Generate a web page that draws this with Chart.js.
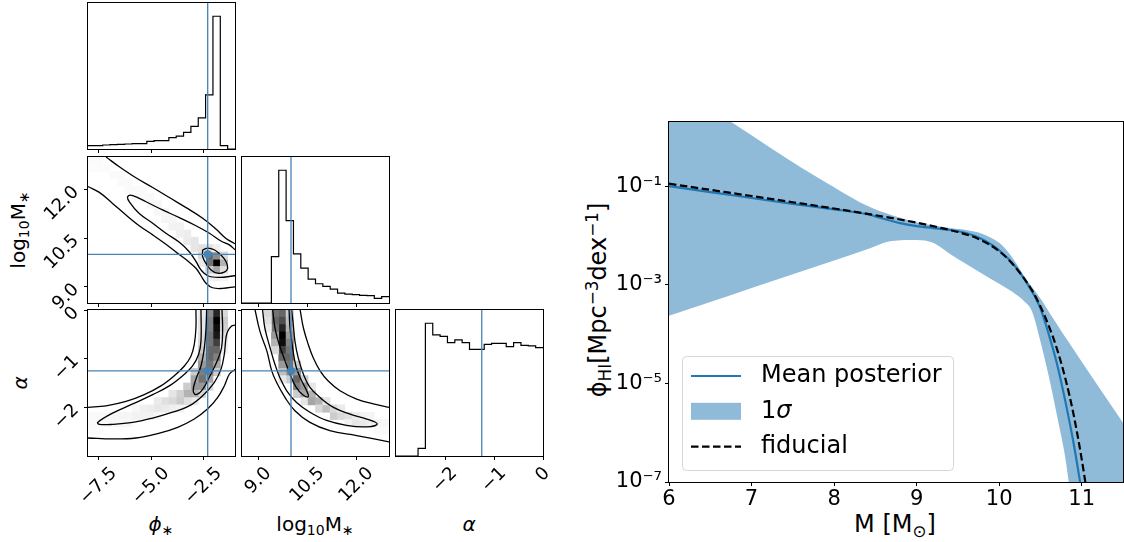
<!DOCTYPE html>
<html><head><meta charset="utf-8">
<script src="https://cdn.jsdelivr.net/npm/chart.js@4.4.1/dist/chart.umd.min.js"></script>
<style>
html,body{margin:0;padding:0;background:#fff;}
body{width:1124px;height:542px;position:relative;overflow:hidden;font-family:"DejaVu Sans";}
canvas{position:absolute;}
.lab{position:absolute;white-space:nowrap;color:#000;font-family:"DejaVu Sans";line-height:1;transform:translate(-50%,-50%);}
.rot{transform:translate(-50%,-50%) rotate(-90deg);}
.sb{font-size:70%;position:relative;top:0.3em;}
.sp{font-size:70%;position:relative;top:-0.5em;}
.it{font-style:italic;}
</style></head><body>
<div class="lab rot" style="left:18px;top:230px;font-size:20px">log<span class="sb">10</span>M<span class="sb">∗</span></div>
<div class="lab rot" style="left:20px;top:383px;font-size:20px"><span class="it">α</span></div>
<div class="lab" style="left:161px;top:524px;font-size:20px"><span class="it">ϕ</span><span class="sb">∗</span></div>
<div class="lab" style="left:315px;top:524px;font-size:20px">log<span class="sb">10</span>M<span class="sb">∗</span></div>
<div class="lab" style="left:469px;top:524px;font-size:20px"><span class="it">α</span></div>
<div class="lab rot" style="left:598px;top:300px;font-size:24px">ϕ<span class="sb">HI</span>[Mpc<span class="sp">−3</span>dex<span class="sp">−1</span>]</div>
<div class="lab" style="left:895px;top:524px;font-size:24px">M [M<span class="sb">⊙</span>]</div>
<script>
// ================= DATA =================
// ---- corner plot ----
const phiRange = [-8, -1];
const logMRange = [8.5, 13];
const alphaRange = [-3, 0];
const phiTicks = [-7.5, -5.0, -2.5];
const phiTickLabels = ['−7.5', '−5.0', '−2.5'];
const logMTicks = [9.0, 10.5, 12.0];
const logMTickLabels = ['9.0', '10.5', '12.0'];
const alphaTicks = [-2, -1, 0];
const alphaTickLabels = ['−2', '−1', '0'];
const truthPhi = -2.3, truthLogM = 10.0, truthAlpha = -1.25;
const nBins = 20;
const histPhi = [10,10,12,13,14,15,16,16,23,25,25,34,39,50,68,94,163,400,10,0];
const histLogM = [0,0,0,0,140,400,248,148,105,72,58,50,42,30,27,25,23,22,14,19];
const histAlpha = [0,0,0,23,398,363,359,340,348,340,320,320,335,338,338,328,340,332,330,325];

// 2D density cells: [binX, binY, relative density]
const densPhiLogM = [[17,5,1.0],[16,5,0.55],[16,6,0.6],[17,6,0.45],[18,5,0.3],[17,4,0.35],[16,4,0.2],[18,6,0.15],[18,4,0.12],[15,6,0.15],[15,7,0.12],[16,7,0.12],[17,7,0.06],[15,5,0.08],[17,3,0.06],[18,3,0.04],[16,3,0.05],
 [14,7,0.1],[14,8,0.1],[13,8,0.08],[13,9,0.07],[12,9,0.06],[12,10,0.05],[11,10,0.05],[11,11,0.04],[10,11,0.04],[10,12,0.035],[9,12,0.03],[9,13,0.03],[8,13,0.03],[8,14,0.025],[7,14,0.025],[7,15,0.02],[6,15,0.02],[5,16,0.02],[4,16,0.02],[4,17,0.02],[3,17,0.02],[2,18,0.015],[1,18,0.015],[1,19,0.015],[0,19,0.015],[0,18,0.01],[5,15,0.02],[6,14,0.02]];
const densPhiAlpha = [[17,19,0.85],[17,18,1.0],[17,17,0.95],[17,16,0.9],[17,15,0.75],[17,14,0.6],[17,13,0.5],[17,12,0.35],[17,11,0.2],
 [16,19,0.45],[16,18,0.5],[16,17,0.5],[16,16,0.55],[16,15,0.55],[16,14,0.6],[16,13,0.6],[16,12,0.55],[16,11,0.5],[16,10,0.35],[16,9,0.15],
 [15,19,0.08],[15,18,0.1],[15,17,0.1],[15,16,0.12],[15,15,0.15],[15,14,0.2],[15,13,0.3],[15,12,0.4],[15,11,0.5],[15,10,0.55],[15,9,0.4],[15,8,0.15],
 [18,19,0.15],[18,18,0.2],[18,17,0.18],[18,16,0.12],[18,15,0.08],[18,14,0.05],
 [14,11,0.2],[14,10,0.35],[14,9,0.4],[14,8,0.3],[14,7,0.08],[13,9,0.2],[13,8,0.3],[13,7,0.12],[12,8,0.18],[12,7,0.2],[12,6,0.05],
 [11,8,0.1],[11,7,0.15],[11,6,0.06],[10,7,0.12],[10,6,0.08],[9,7,0.08],[9,6,0.09],[9,5,0.03],[8,6,0.07],[8,5,0.05],[7,6,0.06],[7,5,0.05],
 [6,5,0.05],[6,6,0.03],[5,5,0.04],[5,4,0.03],[4,5,0.04],[4,4,0.03],[3,5,0.03],[3,4,0.03],[2,5,0.025],[2,4,0.03],[1,4,0.025],[1,5,0.02],[0,4,0.02],[0,5,0.02],[0,3,0.015],[1,3,0.015]];
const densLogMAlpha = [[5,19,0.6],[5,18,0.7],[5,17,0.85],[5,16,1.0],[5,15,0.95],[5,14,0.75],[5,13,0.6],
 [4,19,0.55],[4,18,0.6],[4,17,0.55],[4,16,0.4],[4,15,0.3],[4,14,0.15],[3,19,0.15],[3,18,0.12],[3,17,0.08],
 [6,19,0.2],[6,18,0.25],[6,17,0.3],[6,16,0.4],[6,15,0.5],[6,14,0.55],[6,13,0.6],[6,12,0.55],[6,11,0.45],[6,10,0.2],
 [7,12,0.2],[7,11,0.4],[7,10,0.6],[7,9,0.5],[7,8,0.2],[5,12,0.4],[5,11,0.25],[5,10,0.1],
 [8,10,0.2],[8,9,0.4],[8,8,0.35],[8,7,0.1],[9,8,0.3],[9,7,0.35],[9,9,0.1],[10,7,0.3],[10,6,0.15],[11,6,0.25],[11,7,0.1],
 [12,5,0.2],[12,6,0.15],[13,5,0.15],[13,6,0.08],[14,5,0.12],[14,4,0.05],[15,4,0.1],[15,5,0.08],[16,4,0.08],[16,5,0.05],
 [17,4,0.06],[17,5,0.04],[18,4,0.04],[19,4,0.03],[18,3,0.02],[19,3,0.02]];

// contour lines (data units)
const contA_outerUpper = [[-7.14,13.0],[-6.51,12.70],[-5.72,12.36],[-4.92,12.06],[-4.13,11.75],[-3.33,11.44],[-2.54,11.11],[-1.91,10.78],[-1.43,10.49],[-1.0,10.33]];
const contA_outerLower = [[-8.0,12.09],[-7.46,11.91],[-6.83,11.57],[-6.19,11.21],[-5.56,10.88],[-4.92,10.60],[-4.29,10.31],[-3.73,10.03],[-3.26,9.80],[-2.86,9.57],[-2.62,9.34],[-2.38,9.11],[-2.07,8.97],[-1.59,8.95],[-1.0,9.0]];
const contA_middle = [[-1.0,10.14],[-1.27,10.29],[-1.67,10.41],[-2.22,10.65],[-2.86,10.88],[-3.65,11.13],[-4.45,11.37],[-5.24,11.62],[-5.87,11.81],[-6.11,11.78],[-6.03,11.62],[-5.56,11.26],[-4.92,10.96],[-4.29,10.65],[-3.65,10.37],[-3.18,10.08],[-2.86,9.78],[-2.62,9.52],[-2.30,9.34],[-1.75,9.29],[-1.0,9.34]];
const contA_inner = [[-2.54,10.14],[-2.30,10.19],[-1.99,10.14],[-1.67,9.98],[-1.43,9.78],[-1.35,9.57],[-1.51,9.45],[-1.83,9.42],[-2.14,9.52],[-2.38,9.72],[-2.54,9.93],[-2.54,10.14]];
const contB_outerLeft = [[-2.86,0],[-2.86,-0.37],[-2.94,-0.71],[-3.10,-0.95],[-3.41,-1.15],[-3.89,-1.35],[-4.53,-1.56],[-5.32,-1.74],[-6.19,-1.88],[-7.14,-1.97],[-8.0,-2.0]];
const contB_outerRight = [[-1.0,-1.22],[-1.27,-1.32],[-1.51,-1.56],[-1.83,-1.80],[-2.30,-2.03],[-2.94,-2.24],[-3.73,-2.41],[-4.68,-2.54],[-5.72,-2.63],[-6.83,-2.65],[-8.0,-2.63]];
const contB_middle = [[-2.62,0],[-2.62,-0.64],[-2.73,-0.91],[-3.02,-1.15],[-3.49,-1.35],[-4.13,-1.56],[-4.92,-1.74],[-5.87,-1.93],[-6.83,-2.12],[-7.54,-2.31],[-7.46,-2.35],[-6.83,-2.35],[-5.87,-2.31],[-4.92,-2.22],[-3.97,-2.10],[-3.18,-1.97],[-2.54,-1.76],[-1.99,-1.49],[-1.67,-1.22],[-1.51,-0.91],[-1.43,-0.57],[-1.35,-0.44],[-1.16,-0.33],[-1.0,-0.31]];
const contB_inner = [[-2.35,0],[-2.38,-0.37],[-2.46,-0.78],[-2.62,-1.15],[-2.86,-1.42],[-2.99,-1.66],[-2.86,-1.74],[-2.54,-1.63],[-2.19,-1.35],[-1.86,-1.06],[-1.64,-0.78],[-1.59,-0.37],[-1.62,0]];
const contC_outerLeft = [[8.90,0],[9.05,-0.44],[9.26,-0.84],[9.41,-1.25],[9.56,-1.49],[9.82,-1.80],[10.12,-2.07],[10.58,-2.31],[11.19,-2.48],[12.01,-2.58],[13.0,-2.71]];
const contC_outerRight = [[10.28,0],[10.38,-0.37],[10.53,-0.71],[10.68,-0.98],[10.89,-1.25],[11.14,-1.46],[11.50,-1.66],[12.01,-1.83],[12.52,-1.93],[13.0,-2.0]];
const contC_middle = [[9.13,0],[9.20,-0.37],[9.36,-0.78],[9.51,-1.12],[9.66,-1.39],[9.87,-1.66],[10.17,-1.90],[10.58,-2.10],[11.09,-2.27],[11.70,-2.37],[12.32,-2.40],[12.64,-2.34],[12.32,-2.24],[11.81,-2.14],[11.30,-2.0],[10.89,-1.80],[10.58,-1.59],[10.38,-1.32],[10.22,-0.98],[10.12,-0.64],[10.07,-0.30],[10.02,0]];
const contC_inner = [[9.44,0],[9.51,-0.37],[9.64,-0.71],[9.82,-1.05],[9.97,-1.32],[10.15,-1.58],[10.36,-1.74],[10.53,-1.78],[10.48,-1.66],[10.30,-1.42],[10.15,-1.15],[10.05,-0.78],[9.97,-0.37],[9.94,0]];

// ---- HI mass function (right) ----
const massRange = [6, 11.5];
const massTicks = [6, 7, 8, 9, 10, 11];
const massTickLabels = ['6', '7', '8', '9', '10', '11'];
const phiHIRange = [1e-7, 2];
const phiHITicks = [1e-7, 1e-5, 1e-3, 1e-1];
const phiHITickLabels = ['10⁻⁷', '10⁻⁵', '10⁻³', '10⁻¹'];
const bandM = [6.0,6.4,6.8,7.2,7.6,8.0,8.4,8.7,9.0,9.2,9.4,9.6,9.8,10.0,10.1,10.2,10.3,10.4,10.5,10.6,10.7,10.8,10.85,10.9,11.0,11.2,11.5];
const bandUpperLog = [1.10,0.68,0.25,-0.19,-0.62,-1.02,-1.40,-1.59,-1.73,-1.80,-1.85,-1.89,-1.97,-2.15,-2.32,-2.55,-2.82,-3.05,-3.28,-3.54,-3.80,-4.06,-4.18,-4.31,-4.56,-5.06,-5.80];
const bandLowerLog = [-3.63,-3.405,-3.18,-2.955,-2.73,-2.51,-2.28,-2.11,-2.09,-2.15,-2.37,-2.58,-2.78,-2.98,-3.08,-3.19,-3.33,-3.55,-4.15,-4.85,-5.65,-6.50,-7.10,-7.80,-9.0,-10.0,-10.0];
const meanM = [6.0,6.5,7.0,7.5,8.0,8.4,8.6,8.8,9.0,9.2,9.4,9.6,9.8,10.0,10.2,10.4,10.5,10.6,10.7,10.8,10.9,11.0];
const meanLog = [-1.00,-1.12,-1.24,-1.36,-1.47,-1.57,-1.66,-1.75,-1.81,-1.85,-1.89,-1.95,-2.08,-2.30,-2.64,-3.14,-3.48,-4.0,-4.6,-5.35,-6.2,-7.2];
const fidM = [6.0,6.5,7.0,7.5,8.0,8.5,9.0,9.25,9.5,9.75,10.0,10.2,10.4,10.5,10.6,10.7,10.8,10.9,11.0,11.05,11.1];
const fidLog = [-0.95,-1.075,-1.20,-1.326,-1.454,-1.589,-1.74,-1.83,-1.93,-2.07,-2.32,-2.65,-3.12,-3.44,-3.83,-4.30,-4.89,-5.62,-6.54,-7.08,-7.69];

// ================= STYLE / HELPERS =================
Chart.defaults.font.family = "'DejaVu Sans'";
Chart.defaults.color = '#000';
const TRUTH = '#4682b4';
const CORNER_TICK_FONT = 18;

function binEdges(r){ const e=[]; for(let k=0;k<=nBins;k++) e.push(r[0]+(r[1]-r[0])*k/nBins); return e; }
function pts(arr){ return arr.map(([x,y])=>({x,y})); }

const framePlugin = { id:'frame', afterDraw(chart){ const {ctx, chartArea:a}=chart; ctx.save(); ctx.strokeStyle='#000'; ctx.lineWidth=1; ctx.strokeRect(a.left-0.5, a.top-0.5, a.right-a.left+1, a.bottom-a.top+1); ctx.restore(); } };

const rotXPlugin = { id:'rotX', afterDraw(chart, args, o){
  if (!o || !o.labels) return;
  const {ctx, chartArea:a} = chart; const s = chart.scales.x;
  ctx.save(); ctx.font = o.size + "px 'DejaVu Sans'"; ctx.fillStyle = '#000'; ctx.textAlign='center'; ctx.textBaseline='middle';
  s.ticks.forEach((t,k)=>{
    const txt = o.labels[k]; const w = ctx.measureText(txt).width; const h = o.size*0.72;
    const half = (w+h)*Math.SQRT1_2/2; const px = s.getPixelForValue(t.value);
    ctx.save(); ctx.translate(px, a.bottom + o.offset + half); ctx.rotate(-Math.PI/4); ctx.fillText(txt, 0, 0); ctx.restore();
  });
  ctx.restore();
}};

function mkCanvas(left, top, w, h){
  const c = document.createElement('canvas'); c.width=w; c.height=h;
  c.style.left=left+'px'; c.style.top=top+'px'; c.style.width=w+'px'; c.style.height=h+'px';
  document.body.appendChild(c); return c;
}

const M = {l:70, t:20, r:20, b:60};
const TL = 4;
function axisCfg(range, ticks, labels, showLabels, isY){
  const cfg = {type:'linear', min:range[0], max:range[1], display:true,
    afterBuildTicks: s => { s.ticks = ticks.map(v=>({value:v})); },
    grid:{display:true, drawOnChartArea:false, drawTicks:true, tickLength:TL, color:'#000', lineWidth:1},
    border:{display:false},
    ticks:{display:false}};
  if (isY) {
    cfg.position = 'left';
    const wid = showLabels ? M.l : TL;
    cfg.afterFit = s => { s.width = wid; };
    if (showLabels) cfg.ticks = {display:true, autoSkip:false, minRotation:45, maxRotation:45, padding:8, font:{size:CORNER_TICK_FONT}, color:'#000', callback:(v,i)=>labels[i]};
  } else {
    cfg.afterFit = s => { s.height = TL; };
  }
  return cfg;
}

function panel(rect, xr, xTicks, xLabels, yr, yTicks, yLabels, datasets){
  const c = mkCanvas(rect.l - M.l, rect.t - M.t, rect.w + M.l + M.r, rect.h + M.t + M.b);
  const hasY = !!yTicks;
  const yW = hasY ? (yLabels ? M.l : TL) : 0;
  return new Chart(c, {type:'scatter', data:{datasets},
    options:{responsive:false, animation:false, events:[],
      layout:{padding:{left: M.l - yW, right:M.r, top:M.t, bottom:M.b - TL}},
      plugins:{legend:{display:false}, tooltip:{enabled:false}, colors:{enabled:false},
        rotX: xLabels ? {labels:xLabels, size:CORNER_TICK_FONT, offset:10} : {}},
      scales:{
        x: axisCfg(xr, xTicks, xLabels, false, false),
        y: hasY ? axisCfg(yr, yTicks, yLabels, !!yLabels, true) : {type:'linear', display:false, min:yr[0], max:yr[1]}
      }},
    plugins:[framePlugin, rotXPlugin]});
}

function histDatasets(range, counts, truth, ymax){
  const e = binEdges(range);
  const d = counts.map((c,k)=>({x:e[k], y:c})); d.push({x:e[nBins], y:counts[nBins-1]});
  return [
    {data:[{x:truth,y:0},{x:truth,y:ymax}], showLine:true, borderColor:TRUTH, borderWidth:1.3, pointRadius:0},
    {data:d, showLine:true, stepped:'before', borderColor:'#000', borderWidth:1.2, pointRadius:0}
  ];
}
function contourDs(arr){ return {data:pts(arr), showLine:true, borderColor:'#000', borderWidth:1.3, pointRadius:0, tension:0.4, fill:false}; }
function cellDs(cells, xr, yr){
  const bx=(xr[1]-xr[0])/nBins, by=(yr[1]-yr[0])/nBins;
  return {data: cells.map(([i,j,v])=>({x:xr[0]+(i+0.5)*bx, y:yr[0]+(j+0.5)*by, v})),
    pointStyle:'rect', borderWidth:0,
    pointBackgroundColor: ctx => { const g=Math.round(255*(1-ctx.raw.v)); return 'rgb('+g+','+g+','+g+')'; },
    pointRadius: ctx => { const s=ctx.chart.scales.x; const px=Math.abs(s.getPixelForValue(xr[0]+bx)-s.getPixelForValue(xr[0])); return (px+0.7)/Math.SQRT2; }};
}
function truthDs(tx, ty, xr, yr){
  return [
    {data:[{x:tx,y:ty}], pointRadius:4, pointBackgroundColor:TRUTH, borderWidth:0},
    {data:[{x:tx,y:yr[0]},{x:tx,y:yr[1]}], showLine:true, borderColor:TRUTH, borderWidth:1.3, pointRadius:0},
    {data:[{x:xr[0],y:ty},{x:xr[1],y:ty}], showLine:true, borderColor:TRUTH, borderWidth:1.3, pointRadius:0}
  ];
}

// ================= CORNER PANELS =================
const W = 147, H = 146;
const colL = [88, 242, 396], rowT = [3, 157, 310];
const yMaxPhi = Math.max(...histPhi)*1.1, yMaxLogM = Math.max(...histLogM)*1.1, yMaxAlpha = Math.max(...histAlpha)*1.1;

panel({l:colL[0], t:rowT[0], w:W, h:H}, phiRange, phiTicks, null, [0,yMaxPhi], null, null,
  histDatasets(phiRange, histPhi, truthPhi, yMaxPhi));
panel({l:colL[0], t:rowT[1], w:W, h:H}, phiRange, phiTicks, null, logMRange, logMTicks, logMTickLabels,
  [...truthDs(truthPhi, truthLogM, phiRange, logMRange), contourDs(contA_inner), contourDs(contA_middle), contourDs(contA_outerUpper), contourDs(contA_outerLower), cellDs(densPhiLogM, phiRange, logMRange)]);
panel({l:colL[1], t:rowT[1], w:W, h:H}, logMRange, logMTicks, null, [0,yMaxLogM], null, null,
  histDatasets(logMRange, histLogM, truthLogM, yMaxLogM));
panel({l:colL[0], t:rowT[2], w:W, h:H}, phiRange, phiTicks, phiTickLabels, alphaRange, alphaTicks, alphaTickLabels,
  [...truthDs(truthPhi, truthAlpha, phiRange, alphaRange), contourDs(contB_inner), contourDs(contB_middle), contourDs(contB_outerLeft), contourDs(contB_outerRight), cellDs(densPhiAlpha, phiRange, alphaRange)]);
panel({l:colL[1], t:rowT[2], w:W, h:H}, logMRange, logMTicks, logMTickLabels, alphaRange, alphaTicks, null,
  [...truthDs(truthLogM, truthAlpha, logMRange, alphaRange), contourDs(contC_inner), contourDs(contC_middle), contourDs(contC_outerLeft), contourDs(contC_outerRight), cellDs(densLogMAlpha, logMRange, alphaRange)]);
panel({l:colL[2], t:rowT[2], w:W, h:H}, alphaRange, alphaTicks, alphaTickLabels, [0,yMaxAlpha], null, null,
  histDatasets(alphaRange, histAlpha, truthAlpha, yMaxAlpha));

// ================= RIGHT PANEL =================
const bandLegend = { id:'bandLegend', afterDraw(chart, args, o){
  const {ctx, chartArea:a} = chart; const ds = chart.data.datasets;
  const x0 = Math.round(a.left + o.x) + 0.5, y0 = Math.round(a.top + o.y) + 0.5;
  ctx.save();
  ctx.beginPath(); ctx.roundRect(x0, y0, o.w, o.h, 4);
  ctx.fillStyle='rgba(255,255,255,0.8)'; ctx.fill(); ctx.strokeStyle='#d6d6d6'; ctx.lineWidth=1; ctx.stroke();
  o.items.forEach((it,k)=>{
    const d = ds[it.ds]; const cy = a.top + o.y + o.row0 + k*o.rowH; const hx = a.left + o.hx;
    if (it.kind==='patch') { ctx.fillStyle = d.backgroundColor; ctx.fillRect(hx, cy - o.ph/2, o.hw, o.ph); }
    else { ctx.beginPath(); ctx.setLineDash(d.borderDash || []); ctx.strokeStyle=d.borderColor; ctx.lineWidth=d.borderWidth; ctx.moveTo(hx, cy); ctx.lineTo(hx+o.hw, cy); ctx.stroke(); ctx.setLineDash([]); }
    ctx.fillStyle='#000'; ctx.textBaseline='middle'; ctx.textAlign='left';
    let tx = a.left + o.tx;
    d.label.split(/(σ)/).forEach(part=>{
      if (!part) return;
      ctx.font = (part==='σ' ? 'italic ' : '') + o.font + "px 'DejaVu Sans'";
      ctx.fillText(part, tx, cy); tx += ctx.measureText(part).width;
    });
  });
  ctx.restore();
}};

(function(){
  const c = mkCanvas(560, 100, 564, 442);
  const toPts = (xs, ls) => xs.map((m,k)=>({x:m, y:Math.pow(10, ls[k])}));
  new Chart(c, {type:'line', data:{datasets:[
      {label:'fiducial', data:toPts(fidM, fidLog), borderColor:'#000', borderWidth:2.2, borderDash:[7.5,3.5], pointRadius:0, fill:false, cubicInterpolationMode:'monotone'},
      {label:'Mean posterior', data:toPts(meanM, meanLog), borderColor:'#1f77b4', borderWidth:2.2, pointRadius:0, fill:false, cubicInterpolationMode:'monotone'},
      {label:'1σ', data:toPts(bandM, bandUpperLog), borderColor:'rgba(0,0,0,0)', borderWidth:0, backgroundColor:'#8fbbd9', pointRadius:0, fill:'+1', cubicInterpolationMode:'monotone'},
      {label:'', data:toPts(bandM, bandLowerLog), borderColor:'rgba(0,0,0,0)', borderWidth:0, pointRadius:0, fill:false, cubicInterpolationMode:'monotone'}
    ]},
    options:{responsive:false, animation:false, events:[],
      layout:{padding:{left:0, right:1, top:22, bottom:0}},
      plugins:{legend:{display:false}, tooltip:{enabled:false}, colors:{enabled:false},
        bandLegend:{x:12.5, y:234, w:271, h:114, row0:20, rowH:35.3, hx:22, hw:50, ph:17, tx:92, font:24,
          items:[{ds:1, kind:'line'}, {ds:2, kind:'patch'}, {ds:0, kind:'line'}]}},
      scales:{
        x:{type:'linear', min:massRange[0], max:massRange[1],
          afterBuildTicks: s => { s.ticks = massTicks.map(v=>({value:v})); },
          afterFit: s => { s.height = 60; },
          grid:{drawOnChartArea:false, drawTicks:true, tickLength:4, color:'#000'}, border:{display:false},
          ticks:{font:{size:21}, color:'#000', padding:1, maxRotation:0, callback:(v,i)=>massTickLabels[i]}},
        y:{type:'logarithmic', min:phiHIRange[0], max:phiHIRange[1],
          afterBuildTicks: s => { s.ticks = phiHITicks.map(v=>({value:v})); },
          afterFit: s => { s.width = 109; },
          grid:{drawOnChartArea:false, drawTicks:true, tickLength:4, color:'#000'}, border:{display:false},
          ticks:{font:{size:21}, color:'#000', padding:3, callback:(v,i)=>phiHITickLabels[i]}}
      }},
    plugins:[framePlugin, bandLegend]});
})();
</script>
</body></html>
